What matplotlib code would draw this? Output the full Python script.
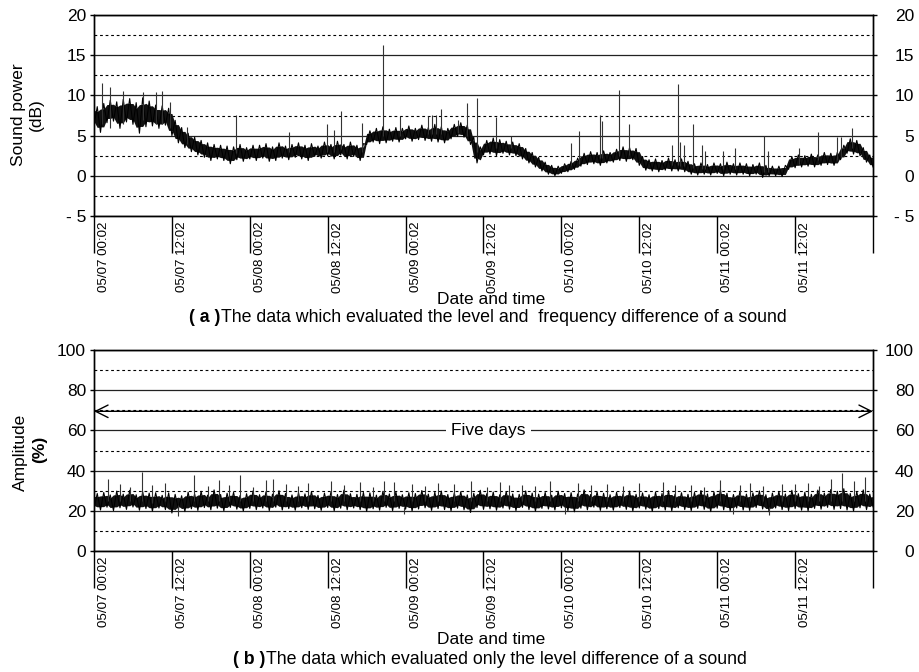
import numpy as np
import matplotlib
matplotlib.use('Agg')
import matplotlib.pyplot as plt
from matplotlib import transforms

plt.rcParams['font.family'] = ['Liberation Sans', 'DejaVu Sans']

# leituras a cada 0,5 h (0 .. 120 h), alternando fundo e topo da faixa de ruído
passo_h = 0.5

potencia_db = [
    6.3, 8.6, 5.4, 9.0, 6.6, 9.4, 6.8, 9.2, 5.9, 9.5,
    6.7, 9.6, 6.4, 9.1, 5.3, 9.7, 6.1, 9.3, 6.2, 8.8,
    5.9, 8.7, 6.3, 8.4, 5.0, 6.9, 4.1, 6.0, 3.5, 5.3,
    3.0, 4.8, 2.6, 4.4, 2.3, 4.1, 1.9, 3.9, 2.1, 3.8,
    1.9, 3.7, 1.5, 3.6, 2.0, 3.9, 1.8, 3.5, 2.1, 3.8,
    1.9, 3.8, 2.2, 4.0, 1.8, 3.6, 1.9, 4.1, 2.2, 3.7,
    2.0, 3.9, 2.3, 4.1, 2.1, 3.8, 1.9, 4.0, 2.4, 3.7,
    2.2, 4.2, 2.5, 3.9, 2.1, 4.3, 2.6, 3.9, 2.1, 4.2,
    2.4, 3.8, 1.9, 4.0, 3.9, 5.6, 4.2, 5.9, 4.0, 6.1,
    4.1, 5.8, 4.3, 6.0, 4.2, 5.9, 4.6, 6.2, 4.3, 5.9,
    4.5, 6.3, 4.4, 6.0, 4.3, 6.4, 4.2, 6.1, 4.1, 5.9,
    4.6, 6.4, 4.9, 6.6, 4.8, 6.3, 3.9, 4.8, 1.6, 3.6,
    2.6, 4.4, 2.7, 4.7, 2.5, 4.5, 2.8, 4.3, 2.6, 4.2,
    2.5, 4.0, 2.1, 3.4, 1.6, 2.9, 1.1, 2.3, 0.6, 1.7,
    0.2, 1.3, 0.0, 1.2, 0.3, 1.5, 0.5, 1.8, 0.8, 2.2,
    1.2, 2.8, 1.4, 3.0, 1.5, 2.9, 1.3, 3.1, 1.6, 2.9,
    1.7, 3.3, 1.9, 3.6, 1.8, 3.5, 2.0, 3.4, 1.3, 2.4,
    0.7, 2.0, 0.6, 2.1, 0.5, 1.9, 0.7, 2.2, 0.6, 2.0,
    0.6, 2.1, 0.5, 1.8, 0.2, 1.5, 0.1, 1.6, 0.2, 1.4,
    0.1, 1.6, 0.3, 1.5, 0.0, 1.7, 0.2, 1.5, 0.1, 1.6,
    0.2, 1.5, 0.0, 1.4, 0.2, 1.6, -0.2, 1.3, 0.0, 1.2,
    0.0, 1.2, -0.1, 1.3, 0.8, 2.4, 1.0, 2.6, 1.1, 2.5,
    1.2, 2.7, 1.1, 2.6, 1.3, 2.9, 1.4, 2.8, 1.3, 2.9,
    2.0, 3.8, 2.8, 4.6, 2.7, 4.4, 2.5, 3.5, 1.7, 2.6,
    1.1,
]

# picos isolados: hora, base, topo
pico_pot_h = [1.3, 2.5, 4.5, 7.6, 9.6, 10.4, 11.7, 14.3, 21.8, 30.0, 35.9, 37.0,
              38.1, 41.3, 44.5, 47.2, 51.5, 52.0, 52.7, 53.4, 56.0, 57.5, 59.0,
              62.0, 64.3, 73.5, 74.7, 77.9, 78.2, 80.9, 82.4, 89.1, 89.9, 90.3,
              90.9, 92.2, 93.6, 94.1, 96.9, 98.7, 103.2, 103.9, 108.6, 111.5,
              114.4, 115.0, 116.8]
pico_pot_base = [6.5, 6.0, 6.5, 7.0, 6.5, 6.5, 6.0, 4.0, 2.8, 3.0, 3.0, 3.0,
                 3.3, 3.0, 5.0, 5.0, 5.2, 5.2, 5.2, 5.2, 5.3, 5.0, 3.0,
                 3.5, 3.5, 1.3, 1.5, 2.2, 2.2, 2.5, 2.6, 1.3, 1.3, 1.2,
                 1.2, 1.0, 0.8, 0.8, 0.8, 0.8, 0.5, 0.5, 1.5, 2.0,
                 2.0, 2.2, 3.5]
pico_pot_topo = [11.6, 11.1, 10.5, 10.4, 10.4, 10.6, 9.2, 6.1, 7.6, 5.4, 6.5, 5.7,
                 8.1, 6.6, 16.3, 7.4, 7.4, 7.6, 7.6, 8.3, 7.0, 9.0, 9.7,
                 7.3, 5.0, 4.1, 5.6, 7.6, 6.8, 10.7, 6.4, 3.8, 11.4, 4.2,
                 3.8, 6.4, 3.8, 3.1, 3.1, 3.4, 5.0, 3.1, 3.4, 5.5,
                 4.8, 4.8, 6.0]

amplitude_pct = [
    21.2, 28.6, 20.4, 29.1, 21.8, 27.9, 20.1, 29.8, 21.5, 28.3,
    20.7, 30.2, 21.9, 28.0, 20.3, 29.4, 21.1, 28.8, 19.8, 29.0,
    21.4, 27.7, 20.6, 28.9, 18.9, 28.2, 20.9, 27.5, 19.6, 29.3,
    21.0, 28.4, 20.2, 29.7, 21.6, 27.8, 20.5, 30.4, 21.3, 28.1,
    20.0, 28.7, 21.7, 29.2, 20.8, 27.6, 19.9, 28.5, 21.2, 29.9,
    20.6, 28.0, 21.4, 29.5, 20.1, 28.3, 21.8, 30.0, 20.4, 28.6,
    21.1, 27.9, 20.3, 29.0, 21.5, 28.4, 20.7, 29.6, 21.0, 27.7,
    20.2, 28.8, 21.6, 29.3, 20.0, 28.1, 21.3, 30.3, 20.5, 28.5,
    21.4, 28.2, 20.6, 29.1, 19.7, 28.9, 21.0, 27.8, 20.3, 29.7,
    21.7, 28.4, 20.1, 29.4, 21.2, 28.0, 20.8, 29.0, 19.9, 28.6,
    20.9, 30.1, 21.5, 28.3, 20.2, 29.2, 21.1, 29.8, 20.6, 28.1,
    20.0, 28.9, 21.3, 29.5, 20.5, 27.9, 19.2, 28.7, 21.6, 30.2,
    20.7, 28.5, 21.0, 29.3, 20.3, 28.0, 21.4, 29.6, 20.8, 28.4,
    20.1, 28.2, 21.7, 29.9, 20.6, 28.8, 19.8, 28.3, 21.2, 29.1,
    20.9, 27.8, 20.4, 29.7, 21.5, 28.6, 20.0, 29.0, 19.5, 28.4,
    21.3, 30.4, 20.5, 28.1, 21.8, 29.4, 20.2, 28.7, 21.0, 28.0,
    20.3, 29.2, 21.6, 28.5, 20.7, 29.8, 19.9, 28.2, 21.4, 28.9,
    20.8, 28.0, 19.7, 29.3, 21.1, 28.6, 20.4, 30.0, 20.0, 28.3,
    21.5, 29.0, 20.6, 28.2, 20.1, 29.1, 21.2, 30.1, 20.7, 28.4,
    19.6, 29.4, 21.3, 30.5, 20.5, 28.7, 20.0, 28.1, 21.4, 29.5,
    20.4, 28.3, 20.2, 28.9, 21.6, 29.9, 20.9, 28.0, 19.5, 28.8,
    21.4, 29.6, 20.6, 28.4, 20.1, 30.2, 21.1, 28.5, 20.3, 29.2,
    20.0, 28.2, 21.2, 30.3, 20.8, 28.8, 21.7, 30.6, 20.7, 29.7,
    21.1, 31.0, 20.4, 28.6, 19.9, 29.5, 21.5, 30.4, 20.6, 28.3,
    22.0,
]

pico_amp_h = [2.2, 7.4, 9.0, 15.4, 19.3, 22.5, 26.5, 27.6, 33.0, 36.5, 41.0, 44.6,
              49.0, 53.0, 58.0, 62.5, 66.0, 70.3, 74.5, 79.0, 84.0, 87.6, 92.0,
              96.4, 101.0, 106.0, 110.0, 113.5, 115.3, 117.0, 118.8,
              4.0, 5.5, 11.0, 17.5, 20.8, 24.5, 29.5, 31.5, 38.5, 43.0, 46.2, 51.0,
              55.5, 60.5, 64.0, 68.0, 76.5, 81.5, 89.5, 94.0, 99.5, 103.0, 108.0, 111.7,
              13.0, 47.8, 72.5, 98.5, 104.0]
pico_amp_base = [25, 25, 24, 25, 25, 25, 25, 25, 25, 25, 25, 25,
                 25, 25, 25, 25, 25, 25, 25, 25, 25, 25, 25,
                 25, 25, 25, 25, 25, 25, 25, 25,
                 25, 25, 25, 25, 25, 25, 25, 25, 25, 25, 25, 25,
                 25, 25, 25, 25, 25, 25, 25, 25, 25, 25, 25, 25,
                 23, 22, 22, 22, 22]
pico_amp_topo = [35.7, 39.5, 33.0, 38.0, 35.3, 37.8, 35.5, 35.7, 34.0, 35.0, 34.5, 35.0,
                 33.5, 34.0, 35.0, 34.5, 33.0, 35.0, 34.0, 33.5, 34.0, 34.5, 33.0,
                 35.3, 34.0, 33.5, 34.0, 36.0, 39.0, 35.0, 36.7,
                 33.5, 32.0, 34.0, 32.5, 33.0, 32.0, 33.5, 32.5, 33.0, 32.0, 34.5, 32.5,
                 33.5, 32.0, 33.0, 32.5, 33.0, 32.5, 33.0, 32.0, 33.0, 32.5, 33.5, 32.5,
                 17.5, 18.2, 18.5, 18.3, 18.0]

horas_ticks = [0, 12, 24, 36, 48, 60, 72, 84, 96, 108, 120]
rotulos_ticks = ['05/07 00:02', '05/07 12:02', '05/08 00:02', '05/08 12:02',
                 '05/09 00:02', '05/09 12:02', '05/10 00:02', '05/10 12:02',
                 '05/11 00:02', '05/11 12:02', '']

pot_ticks = [-5, 0, 5, 10, 15, 20]
pot_rotulos = ['- 5', '0', '5', '10', '15', '20']
pot_menores = [-2.5, 2.5, 7.5, 12.5, 17.5]
amp_ticks = [0, 20, 40, 60, 80, 100]
amp_rotulos = ['0', '20', '40', '60', '80', '100']
amp_menores = [10, 30, 50, 70, 90]

FS = 12.5
W, H = 919, 672

fig = plt.figure(figsize=(W / 100, H / 100), dpi=100)


def painel(ret, valores, p_h, p_lo, p_hi, yticks, yrot, menores):
    ax = fig.add_axes(ret)
    v = np.asarray(valores)
    horas = np.arange(len(v)) * passo_h
    # núcleo escuro da faixa; o zigue-zague da linha fica saindo dele
    vp = np.pad(v, 1, mode='edge')
    lo = np.minimum(np.minimum(vp[:-2], vp[1:-1]), vp[2:])
    hi = np.maximum(np.maximum(vp[:-2], vp[1:-1]), vp[2:])
    meio = (lo + hi) / 2
    meia = (hi - lo) / 2 * 0.62
    ax.fill_between(horas, meio - meia, meio + meia, color='#111111', lw=0, zorder=3)
    ax.plot(horas, v, color='black', lw=0.8, zorder=3)
    ax.vlines(p_h, p_lo, p_hi, color='#333333', lw=0.8, zorder=3)
    ax.set_xlim(0, 120)
    ax.set_ylim(yticks[0], yticks[-1])
    ax.set_yticks(yticks)
    ax.set_yticklabels(yrot)
    ax.set_yticks(menores, minor=True)
    ax.grid(True, which='major', axis='y', color='#222222', lw=0.9)
    ax.grid(True, which='minor', axis='y', color='black', lw=0.8, ls=(0, (2.5, 2.5)))
    ax.set_xticks(horas_ticks)
    ax.tick_params(axis='x', length=26.6, width=1, labelbottom=False)
    ax.tick_params(axis='y', which='major', length=3, width=1, pad=2.7, labelsize=FS)
    ax.tick_params(axis='y', which='minor', length=0)
    for s in ax.spines.values():
        s.set_linewidth(1)

    ax2 = ax.twinx()
    ax2.set_ylim(yticks[0], yticks[-1])
    ax2.set_yticks(yticks)
    ax2.set_yticklabels(yrot)
    ax2.tick_params(axis='y', length=3, width=1, pad=26.6, labelsize=FS)
    for lbl in ax2.get_yticklabels():
        lbl.set_ha('right')
    for s in ax2.spines.values():
        s.set_linewidth(1)

    trans = transforms.blended_transform_factory(ax.transData, ax.transAxes) + \
        transforms.ScaledTranslation(4 / 100, -6 / 100, fig.dpi_scale_trans)
    for h, r in zip(horas_ticks, rotulos_ticks):
        ax.text(h, 0, r, transform=trans, rotation=90, ha='left', va='top',
                fontsize=9.6, clip_on=False)
    return ax


ax1 = painel([94 / W, 1 - 216 / H, 779 / W, 201 / H], potencia_db,
             pico_pot_h, pico_pot_base, pico_pot_topo, pot_ticks, pot_rotulos, pot_menores)
ax2 = painel([94 / W, 1 - 551 / H, 779 / W, 201 / H], amplitude_pct,
             pico_amp_h, pico_amp_base, pico_amp_topo, amp_ticks, amp_rotulos, amp_menores)

# seta "Five days"
ax2.annotate('', xy=(0, 69.5), xytext=(120, 69.5),
             arrowprops=dict(arrowstyle='<->,head_length=0.6,head_width=0.3',
                             lw=1, color='black', mutation_scale=15,
                             shrinkA=0, shrinkB=0), zorder=4)
ax2.text(60.7, 60, 'Five days', ha='center', va='center', fontsize=FS, zorder=5,
         bbox=dict(boxstyle='square,pad=0.3', fc='white', ec='none'))

# rótulos dos eixos
fig.text(19 / W, 1 - 115 / H, 'Sound power', rotation=90, ha='center', va='center', fontsize=FS)
fig.text(36 / W, 1 - 115 / H, '(dB)', rotation=90, ha='center', va='center', fontsize=FS)
fig.text(20 / W, 1 - 452 / H, 'Amplitude', rotation=90, ha='center', va='center', fontsize=FS)
fig.text(40 / W, 1 - 449 / H, '(%)', rotation=90, ha='center', va='center', fontsize=FS,
         weight='bold')
fig.text(491 / W, 1 - 300 / H, 'Date and time', ha='center', va='center', fontsize=FS)
fig.text(491 / W, 1 - 640 / H, 'Date and time', ha='center', va='center', fontsize=FS)


def legenda(y, negrito, resto, tam, centro):
    t1 = fig.text(0, 1 - y / H, negrito, ha='left', va='center', fontsize=tam, weight='bold')
    t2 = fig.text(0, 1 - y / H, resto, ha='left', va='center', fontsize=tam)
    fig.canvas.draw()
    r = fig.canvas.get_renderer()
    w1 = t1.get_window_extent(r).width
    w2 = t2.get_window_extent(r).width
    x0 = centro - (w1 + w2) / 2
    t1.set_x(x0 / W)
    t2.set_x((x0 + w1) / W)


legenda(318, '( a )', 'The data which evaluated the level and  frequency difference of a sound',
        12.8, 488)
legenda(660, '( b )', 'The data which evaluated only the level difference of a sound',
        12.8, 490)

fig.savefig('out.png', dpi=100)
